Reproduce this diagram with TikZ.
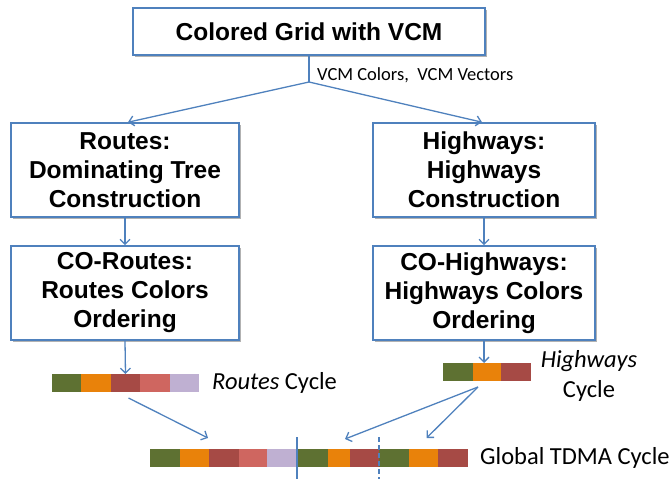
\documentclass[tikz,border=0pt]{standalone}
\usepackage{fontspec}
\setmainfont{Carlito}
\newfontfamily\boxfont{Liberation Sans}
\usetikzlibrary{positioning,arrows.meta,shadows}

\definecolor{boxblue}{RGB}{79,129,189}
\definecolor{slotgreen}{RGB}{94,113,50}
\definecolor{slotorange}{RGB}{233,130,10}
\definecolor{slotdred}{RGB}{166,74,69}
\definecolor{slotsalmon}{RGB}{207,102,96}
\definecolor{slotlilac}{RGB}{191,176,210}

\tikzset{
  stage/.style={draw=boxblue, line width=1.6pt, fill=white, align=center, inner sep=0pt,
    font=\boxfont\bfseries\fontsize{24.5}{29}\selectfont,
    drop shadow={shadow xshift=2pt, shadow yshift=-2pt, fill=black, opacity=0.3}},
  flow/.style={draw=boxblue, line width=1.3pt, -{Straight Barb[length=5pt,width=10pt]}},
  slot/.style={minimum height=18pt, inner sep=0pt, outer sep=0pt},
  lbl/.style={font=\fontsize{24.5}{30}\selectfont, align=center, inner sep=0pt}
}

\begin{document}
\begin{tikzpicture}[x=1pt,y=-1pt]
\useasboundingbox (0,0) rectangle (670,479);

\node[stage, minimum width=352pt, minimum height=47pt] (grid) at (309,31.5) {Colored Grid with VCM};
\node[stage, minimum width=228pt, minimum height=94pt] (rt) at (125,170) {Routes:\\Dominating Tree\\Construction};
\node[stage, minimum width=228pt, minimum height=94pt] (rco) at (125,293) {CO-Routes:\\Routes Colors\\Ordering};
\node[stage, minimum width=222pt, minimum height=94pt] (hw) at (484,170) {Highways:\\Highways\\Construction};
\node[stage, minimum width=222pt, minimum height=94pt] (hco) at (484,293) {CO-Highways:\\Highways Colors\\Ordering};

\coordinate (split) at (309,82);
\node[anchor=west, inner sep=0pt, font=\fontsize{18.5}{20}\selectfont] (vcm) at (317,75) {VCM Colors,\ \ VCM Vectors};
\draw[boxblue, line width=1.3pt] (grid.south) -- (split);
\draw[flow] (split) -- ([xshift=3pt]rt.north);
\draw[flow] (split) -- ([xshift=-2pt]hw.north);
\draw[flow] (rt) -- (rco);
\draw[flow] (hw) -- (hco);

% routes cycle
\node[slot, fill=slotgreen, minimum width=29.4pt, anchor=west] (r1) at (52,383) {};
\foreach \c [count=\i from 2] in {slotorange,slotdred,slotsalmon,slotlilac}{
  \pgfmathtruncatemacro\j{\i-1}
  \node[slot, fill=\c, minimum width=29.4pt, right=0pt of r\j] (r\i) {};
}
\node[lbl, right=13pt of r5] (rlbl) {\itshape Routes\upshape{} Cycle};

% highways cycle
\node[slot, fill=slotgreen, minimum width=30pt, anchor=west] (h1) at (443,372) {};
\foreach \c/\w [count=\i from 2] in {slotorange/28,slotdred/30}{
  \pgfmathtruncatemacro\j{\i-1}
  \node[slot, fill=\c, minimum width=\w pt, right=0pt of h\j] (h\i) {};
}
\node[lbl] (hlbl) at (589,376) {\itshape Highways\\Cycle};

% global cycle
\node[slot, fill=slotgreen, minimum width=30pt, anchor=west] (g1) at (150,458) {};
\foreach \c/\w [count=\i from 2] in {slotorange/29,slotdred/30,slotsalmon/28,slotlilac/30,
    slotgreen/31,slotorange/22,slotdred/29,slotgreen/30,slotorange/29,slotdred/30}{
  \pgfmathtruncatemacro\j{\i-1}
  \node[slot, fill=\c, minimum width=\w pt, right=0pt of g\j] (g\i) {};
}
\node[lbl, right=12pt of g11] (glbl) {Global TDMA Cycle};
\draw[boxblue, line width=1.3pt] ([yshift=12pt]g5.north east) -- ([yshift=-12pt]g5.south east);
\draw[boxblue, line width=1.3pt, dash pattern=on 5pt off 3pt] ([yshift=12pt]g8.north east) -- ([yshift=-12pt]g8.south east);

\draw[flow] (rco.south) -- (r3.north);
\draw[flow] (hco.south) -- (hco.south |- h2.north);
\draw[flow] ([shift={(3pt,-6pt)}]r3.south) -- ([shift={(-1pt,11pt)}]g3.north west);
\draw[flow] ([shift={(-9pt,-6pt)}]h2.south) -- ([shift={(6pt,10pt)}]g7.north);
\draw[flow] ([shift={(-9pt,-6pt)}]h2.south) -- ([shift={(3pt,11pt)}]g10.north);
\end{tikzpicture}
\end{document}
